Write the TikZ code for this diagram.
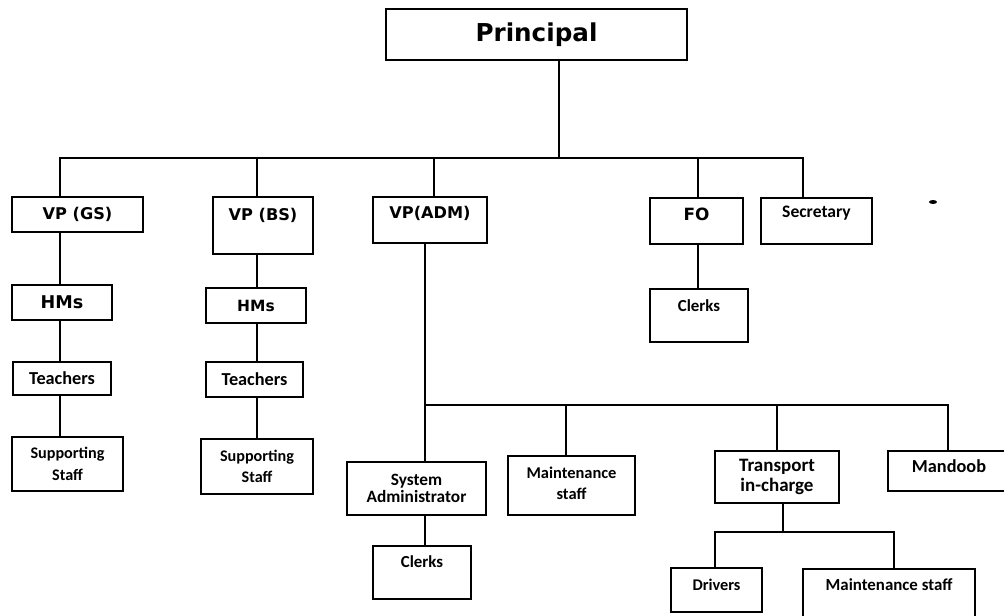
\documentclass[tikz,border=0pt]{standalone}
\usepackage{fontspec}
\newfontfamily\vfont{DejaVu Sans}
\newfontfamily\cfont{Carlito}
\tikzset{
  box/.style 2 args={draw, line width=0.9pt, inner sep=0pt, align=center,
    minimum width=#1*0.025cm, minimum height=#2*0.025cm},
  big/.style={font=\vfont\bfseries\fontsize{11.5}{13}\selectfont},
  small/.style={font=\cfont\bfseries\fontsize{12}{14.5}\selectfont},
  link/.style={line width=0.9pt}
}

\begin{document}
\begin{tikzpicture}[x=0.025cm, y=-0.025cm]
      \useasboundingbox (0,0) rectangle (1004,616);
      \node[box={301}{51}, font=\vfont\bfseries\fontsize{17.5}{20}\selectfont] (prin) at (536.5,34.5) {Principal};
      \node[box={131}{35}, big] (vpgs) at (77.5,214.5) {VP (GS)};
      \node[box={100}{35}, big, font=\vfont\bfseries\fontsize{12.5}{14}\selectfont] (hmsgs) at (62,302.5) {HMs};
      \node[box={98}{33}, small, font=\cfont\bfseries\fontsize{13}{15}\selectfont] (tchgs) at (62,378.5) {Teachers};
      \node[box={111}{54}, small, font=\cfont\bfseries\fontsize{11.5}{15.4}\selectfont] (supgs) at (67.5,464) {Supporting\\Staff};
      \node[box={100}{57}, label={[big, anchor=center, yshift=-0.475cm]north:VP (BS)}] (vpbs) at (263,225.5) {};
      \node[box={100}{35}, big, font=\vfont\bfseries\fontsize{11}{13}\selectfont] (hmsbs) at (256,305.5) {HMs};
      \node[box={97}{35}, small, font=\cfont\bfseries\fontsize{13}{15}\selectfont] (tchbs) at (254.5,379.5) {Teachers};
      \node[box={112}{55}, small, font=\cfont\bfseries\fontsize{11.5}{15.4}\selectfont] (supbs) at (257,466.5) {Supporting\\Staff};
      \node[box={114}{46}, label={[big, anchor=center, yshift=-0.42cm]north:VP(ADM)}] (vpadm) at (430,220) {};
      \node[box={93}{46}, label={[big, font=\vfont\bfseries\fontsize{12}{14}\selectfont, anchor=center, yshift=-0.425cm]north:FO}] (fo) at (696.5,221) {};
      \node[box={111}{46}, label={[small, font=\cfont\bfseries\fontsize{12.5}{14}\selectfont, anchor=center, yshift=-0.4cm]north:Secretary}] (secr) at (816.5,221) {};
      \node[box={98}{53}, label={[small, anchor=center, yshift=-0.425cm]north:Clerks}] (clkfo) at (699,315.5) {};
      \node[box={139}{53}, small, font=\cfont\bfseries\fontsize{12.3}{12.5}\selectfont] (sysad) at (416.5,488.5) {System\\Administrator};
      \node[box={127}{59}, label={[small, font=\cfont\bfseries\fontsize{11.7}{15}\selectfont, align=center, anchor=center, yshift=-0.69cm]north:Maintenance\\staff}] (maint) at (571.5,485.5) {};
      \node[box={98}{53}, label={[small, anchor=center, yshift=-0.4cm]north:Clerks}] (clkadm) at (422,572.5) {};
      \node[box={124}{52}, small, font=\cfont\bfseries\fontsize{13.5}{14.7}\selectfont] (trans) at (777,477) {Transport\\in-charge};
      \node[box={122}{40}, label={[small, font=\cfont\bfseries\fontsize{13}{15}\selectfont, anchor=center, yshift=-0.4cm]north:Mandoob}] (mand) at (949,471) {};
      \node[box={91}{44}, label={[small, font=\cfont\bfseries\fontsize{11.6}{14}\selectfont, anchor=center, yshift=-0.425cm]north:Drivers}] (drv) at (716.5,590) {};
      \node[box={172}{56}, label={[small, anchor=center, yshift=-0.4cm]north:Maintenance staff}] (maint2) at (889,597) {};

      \coordinate (p) at (559,158);
      \coordinate (gs) at (60,158);
      \coordinate (bs) at (257,158);
      \coordinate (adm) at (434,158);
      \coordinate (fox) at (698,158);
      \coordinate (sec) at (803,158);
      \coordinate (b2) at (425,405);
      \coordinate (mt) at (566,405);
      \coordinate (tr) at (777,405);
      \coordinate (b2r) at (948,405);
      \coordinate (b3) at (783,532);
      \coordinate (b3l) at (715,532);
      \coordinate (b3r) at (894,532);

      \draw[line width=1.4pt] (p |- prin.south) -- (p);
      \draw[link] (vpgs.north -| gs) -- (gs) -- (sec) -- (secr.north -| sec);
      \draw[link] (bs) -- (vpbs.north -| bs);
      \draw[link] (adm) -- (vpadm.north -| adm);
      \draw[link] (fox) -- (fo.north -| fox);
      \draw[link] (vpgs.south -| gs) -- (hmsgs.north -| gs) (hmsgs.south -| gs) -- (tchgs.north -| gs) (tchgs.south -| gs) -- (supgs.north -| gs);
      \draw[link] (vpbs.south -| bs) -- (hmsbs.north -| bs) (hmsbs.south -| bs) -- (tchbs.north -| bs) (tchbs.south -| bs) -- (supbs.north -| bs);
      \draw[link] (fo.south -| fox) -- (clkfo.north -| fox);
      \draw[link] (vpadm.south -| b2) -- (sysad.north -| b2);
      \draw[link] (b2) -- (b2r) -- (mand.north -| b2r);
      \draw[link] (mt) -- (maint.north -| mt);
      \draw[link] (tr) -- (trans.north -| tr);
      \draw[link] (sysad.south -| b2) -- (clkadm.north -| b2);
      \draw[link] (b3 |- trans.south) -- (b3);
      \draw[link] (drv.north -| b3l) -- (b3l) -- (b3r) -- (maint2.north -| b3r);
      \fill (933,202) ellipse (4 and 2);
    \end{tikzpicture}
\end{document}
